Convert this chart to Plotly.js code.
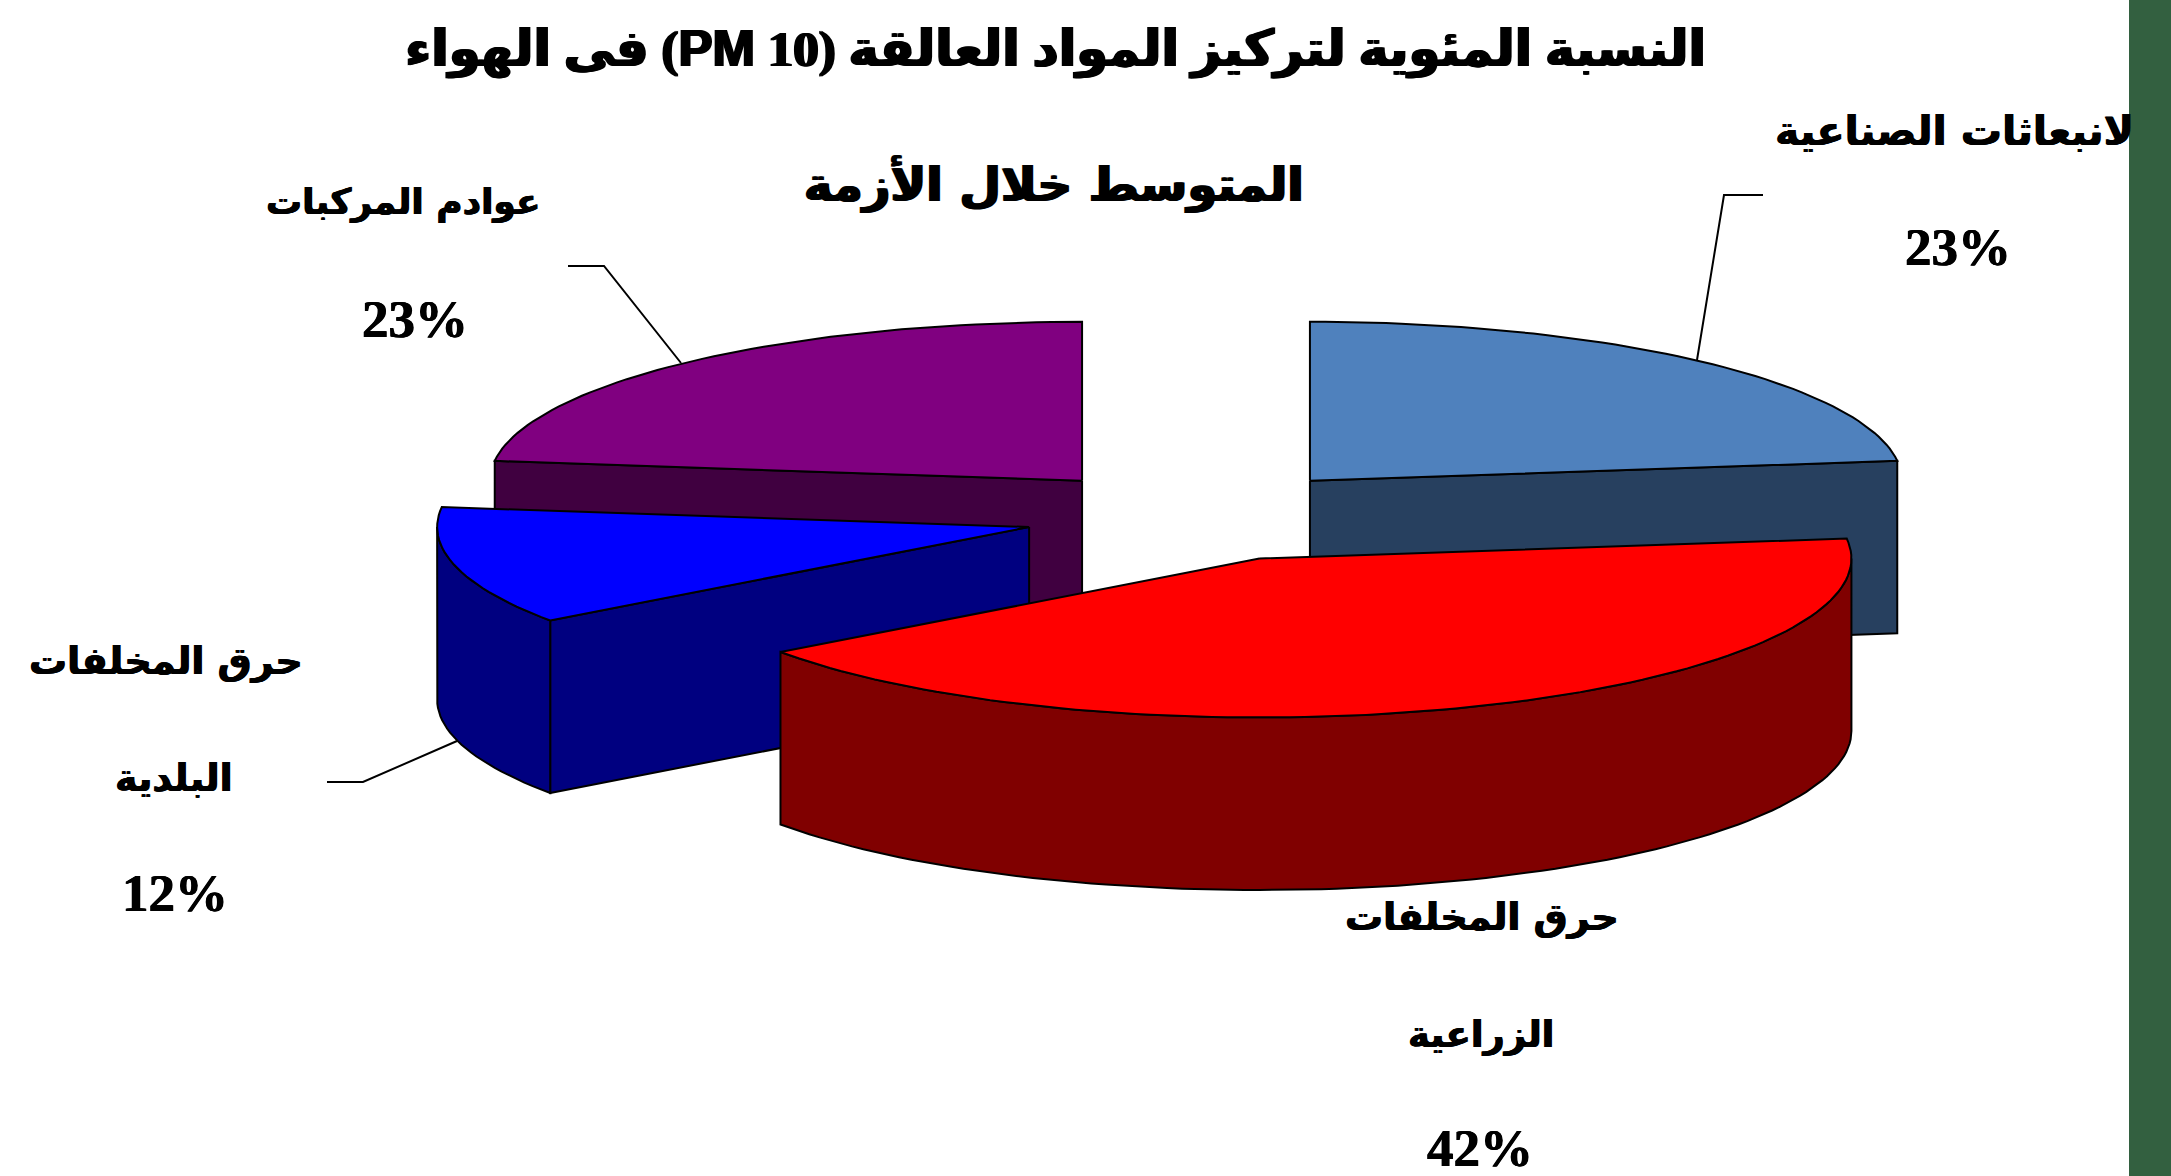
<!DOCTYPE html>
<html><head><meta charset="utf-8">
<script src="https://cdn.plot.ly/plotly-3.0.1.min.js"></script>
<style>html,body{margin:0;padding:0;background:#fff;overflow:hidden}</style>
</head><body><div id="chart" style="width:2171px;height:1176px"></div>
<script>
// Data
const categories = ["الانبعاثات الصناعية","حرق المخلفات الزراعية","حرق المخلفات البلدية","عوادم المركبات"];
const values = [23, 42, 12, 23];
const topColors = ["#4F81BD","#FF0000","#0000FF","#800080"];
const sideColors = ["#27405F","#800000","#000080","#400040"];
const drawOrder = [3, 0, 2, 1];

// Pie projection (axes are in page pixels)
const cx = 1196, cy = 515.5, rx = 592, ry = 159, depth = 172.5, pull = 0.291;

const ang = []; let acc = 0;
values.forEach(v => { ang.push([acc, acc + v * 3.6]); acc += v * 3.6; });
const rad = d => d * Math.PI / 180;
function pt(o, d, r = 1, dz = 0) {
  return [o[0] + r * rx * Math.sin(rad(d)), o[1] - r * ry * Math.cos(rad(d)) + dz];
}
function arc(o, a0, a1, dz = 0) {
  const out = [], n = Math.max(2, Math.ceil((a1 - a0) / 1.5));
  for (let i = 0; i <= n; i++) out.push(pt(o, a0 + (a1 - a0) * i / n, 1, dz));
  return out;
}
function poly(p, color) {
  const c = p.concat([p[0]]);
  return { type: "scatter", mode: "lines", x: c.map(q => q[0]), y: c.map(q => q[1]), fill: "toself",
    fillcolor: color, line: { color: "#000", width: 2 }, hoverinfo: "skip", showlegend: false };
}
const traces = [];
drawOrder.forEach(i => {
  const [a0, a1] = ang[i], mid = (a0 + a1) / 2;
  const o = pt([cx, cy], mid, pull);
  const s = sideColors[i];
  // inner radial face on the slice edge that faces the viewer
  if (i === 0) traces.push(poly([o, pt(o, a1), pt(o, a1, 1, depth), [o[0], o[1] + depth]], s));
  if (i === 2 || i === 3) traces.push(poly([o, pt(o, a0), pt(o, a0, 1, depth), [o[0], o[1] + depth]], s));
  // outer wall on the near half of the ellipse
  const w0 = Math.max(a0, 90), w1 = Math.min(a1, 270);
  if (w1 > w0) traces.push(poly(arc(o, w0, w1).concat(arc(o, w0, w1, depth).reverse()), s));
  // top face
  traces.push(poly([o].concat(arc(o, a0, a1)), topColors[i]));
});

// Leader lines
const leaders = [
  { x: [1763, 1724, 1697], y: [195, 195, 360] },
  { x: [568, 604, 681], y: [266, 266, 363] },
  { x: [327, 363, 457], y: [782, 782, 741] }
];
leaders.forEach(l => traces.push({ type: "scatter", mode: "lines", x: l.x, y: l.y,
  line: { color: "#000", width: 2 }, hoverinfo: "skip", showlegend: false }));

// Labels
const arabicFont = '"DejaVu Sans","Noto Sans",sans-serif';
const serifFont = '"Liberation Serif",serif';
const labelText = ["لانبعاثات الصناعية","عوادم المركبات","حرق المخلفات","البلدية","حرق المخلفات","الزراعية"];
const labelX = [1954, 403, 166, 174, 1482, 1481];
const labelY = [131, 202, 661, 778, 917, 1034];
const labelSize = [41, 36, 38, 38, 38, 37];
const pctText = ["23%","23%","12%","42%"];
const pctX = [1958, 415, 175, 1480];
const pctY = [247, 319, 893, 1148];

const heavy = "0.6px 0 0 #000, -0.6px 0 0 #000";
const heavier = "1.2px 0 0 #000, -1.2px 0 0 #000";
const annotations = [];
labelText.forEach((t, i) => annotations.push({ xref: "x", yref: "y", x: labelX[i], y: labelY[i], text: "<b>" + t + "</b>",
  showarrow: false, xanchor: "center", yanchor: "middle", font: { family: arabicFont, size: labelSize[i], color: "#000", shadow: heavy } }));
pctText.forEach((t, i) => annotations.push({ xref: "x", yref: "y", x: pctX[i], y: pctY[i], text: "<b>" + t + "</b>",
  showarrow: false, xanchor: "center", yanchor: "middle", font: { family: serifFont, size: 53, color: "#000", shadow: heavy } }));

const titleLine1 = "\u202Bالنسبة المئوية لتركيز المواد العالقة (<span style=\"font-family:'Liberation Sans'\">PM</span> 10) فى الهواء\u202C";
const titleLine2 = "المتوسط خلال الأزمة";
annotations.push({ xref: "x", yref: "y", x: 1054, y: 184, text: "<b>" + titleLine2 + "</b>", showarrow: false,
  xanchor: "center", yanchor: "middle", font: { family: arabicFont, size: 48, color: "#000", shadow: heavier } });

const layout = {
  width: 2171, height: 1176, margin: { l: 0, r: 0, t: 0, b: 0 }, paper_bgcolor: "#fff", plot_bgcolor: "#fff",
  title: { text: "<b>" + titleLine1 + "</b>", x: 0.4862, xanchor: "center", xref: "container", y: 0.9592, yref: "container", yanchor: "middle",
    font: { family: '"Liberation Serif","DejaVu Sans",serif', size: 51, color: "#000", shadow: heavier } },
  xaxis: { range: [0, 2171], visible: false, fixedrange: true },
  yaxis: { range: [1176, 0], visible: false, fixedrange: true },
  shapes: [{ type: "rect", xref: "paper", yref: "paper", x0: 2129 / 2171, x1: 1, y0: 0, y1: 1, fillcolor: "#336040", line: { width: 0 }, layer: "above" }],
  annotations, showlegend: false
};
Plotly.newPlot("chart", traces, layout, { displayModeBar: false, staticPlot: true });
</script></body></html>
